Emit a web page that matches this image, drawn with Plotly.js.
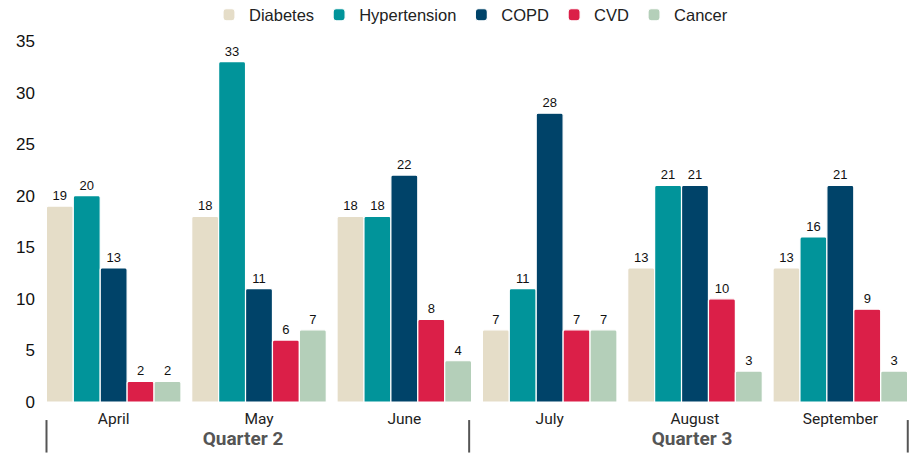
<!DOCTYPE html>
<html><head><meta charset="utf-8">
<script src="https://cdn.plot.ly/plotly-3.0.1.min.js"></script>
<style>html,body{margin:0;padding:0;background:#fff}#chart{width:921px;height:455px}</style>
</head><body><div id="chart"></div>
<script>
const quarters = ["Quarter 2","Quarter 2","Quarter 2","Quarter 3","Quarter 3","Quarter 3"];
const months = ["April","May","June","July","August","September"];
const seriesNames = ["Diabetes","Hypertension","COPD","CVD","Cancer"];
const diabetes = [19,18,18,7,13,13];
const hypertension = [20,33,18,11,21,16];
const copd = [13,11,22,28,21,21];
const cvd = [2,6,8,7,10,9];
const cancer = [2,7,4,7,3,3];
const colors = ["#E5DDC8","#01949A","#004369","#DB1F48","#B4CFB9"];
const values = [diabetes,hypertension,copd,cvd,cancer];
const traces = values.map((v,i)=>({
  type:"bar", name:seriesNames[i], x:[quarters,months], y:v,
  marker:{color:colors[i], line:{color:"#ffffff", width:1.2}, cornerradius:2},
  text:v.map(String), textposition:"outside", cliponaxis:false,
  textfont:{family:"Liberation Sans, Arial, sans-serif", size:13, color:"#111"}
}));
const layout = {
  width:921, height:455,
  margin:{l:41, r:8, t:37, b:53},
  barmode:"group", bargap:0.074, bargroupgap:0,
  paper_bgcolor:"#fff", plot_bgcolor:"#fff",
  font:{family:"Liberation Sans, Arial, sans-serif", color:"#111"},
  showlegend:true,
  legend:{orientation:"h", x:0.5, xanchor:"center", y:1.09, yanchor:"top",
    font:{size:16.5, color:"#222"}, traceorder:"normal"},
  xaxis:{type:"multicategory", showgrid:false, zeroline:false, showline:false,
    ticks:"", showdividers:false, ticklabelstandoff:5,
    tickfont:{family:"Roboto, Liberation Sans, sans-serif", size:15.5, color:"#222"}},
  yaxis:{range:[0,35], dtick:5, showgrid:false, zeroline:false, showline:false,
    ticks:"", ticklabelstandoff:5, tickfont:{size:17, color:"#111"}, automargin:false},
  shapes:[0.0063,0.491,0.994].map(px=>({type:"line", xref:"paper", yref:"paper", x0:px, x1:px,
    y0:-0.05, y1:-0.14, line:{color:"#555", width:2}}))
};
Plotly.newPlot("chart", traces, layout, {displayModeBar:false, staticPlot:true}).then(gd=>{
  document.querySelectorAll("#chart text").forEach(t=>{
    if (/^Quarter/.test(t.textContent)) {
      const dx = /2$/.test(t.textContent) ? -16 : -3;
      t.style.fontWeight = "bold";
      t.style.fontSize = "19px";
      t.style.fill = "#555";
      t.setAttribute("transform", (t.getAttribute("transform")||"") + " translate(" + dx + ",6)");
    }
  });
  const lg = document.querySelector("#chart g.legend");
  if (lg) lg.setAttribute("transform", (lg.getAttribute("transform")||"") + " translate(-6,-11)");
});
</script></body></html>
